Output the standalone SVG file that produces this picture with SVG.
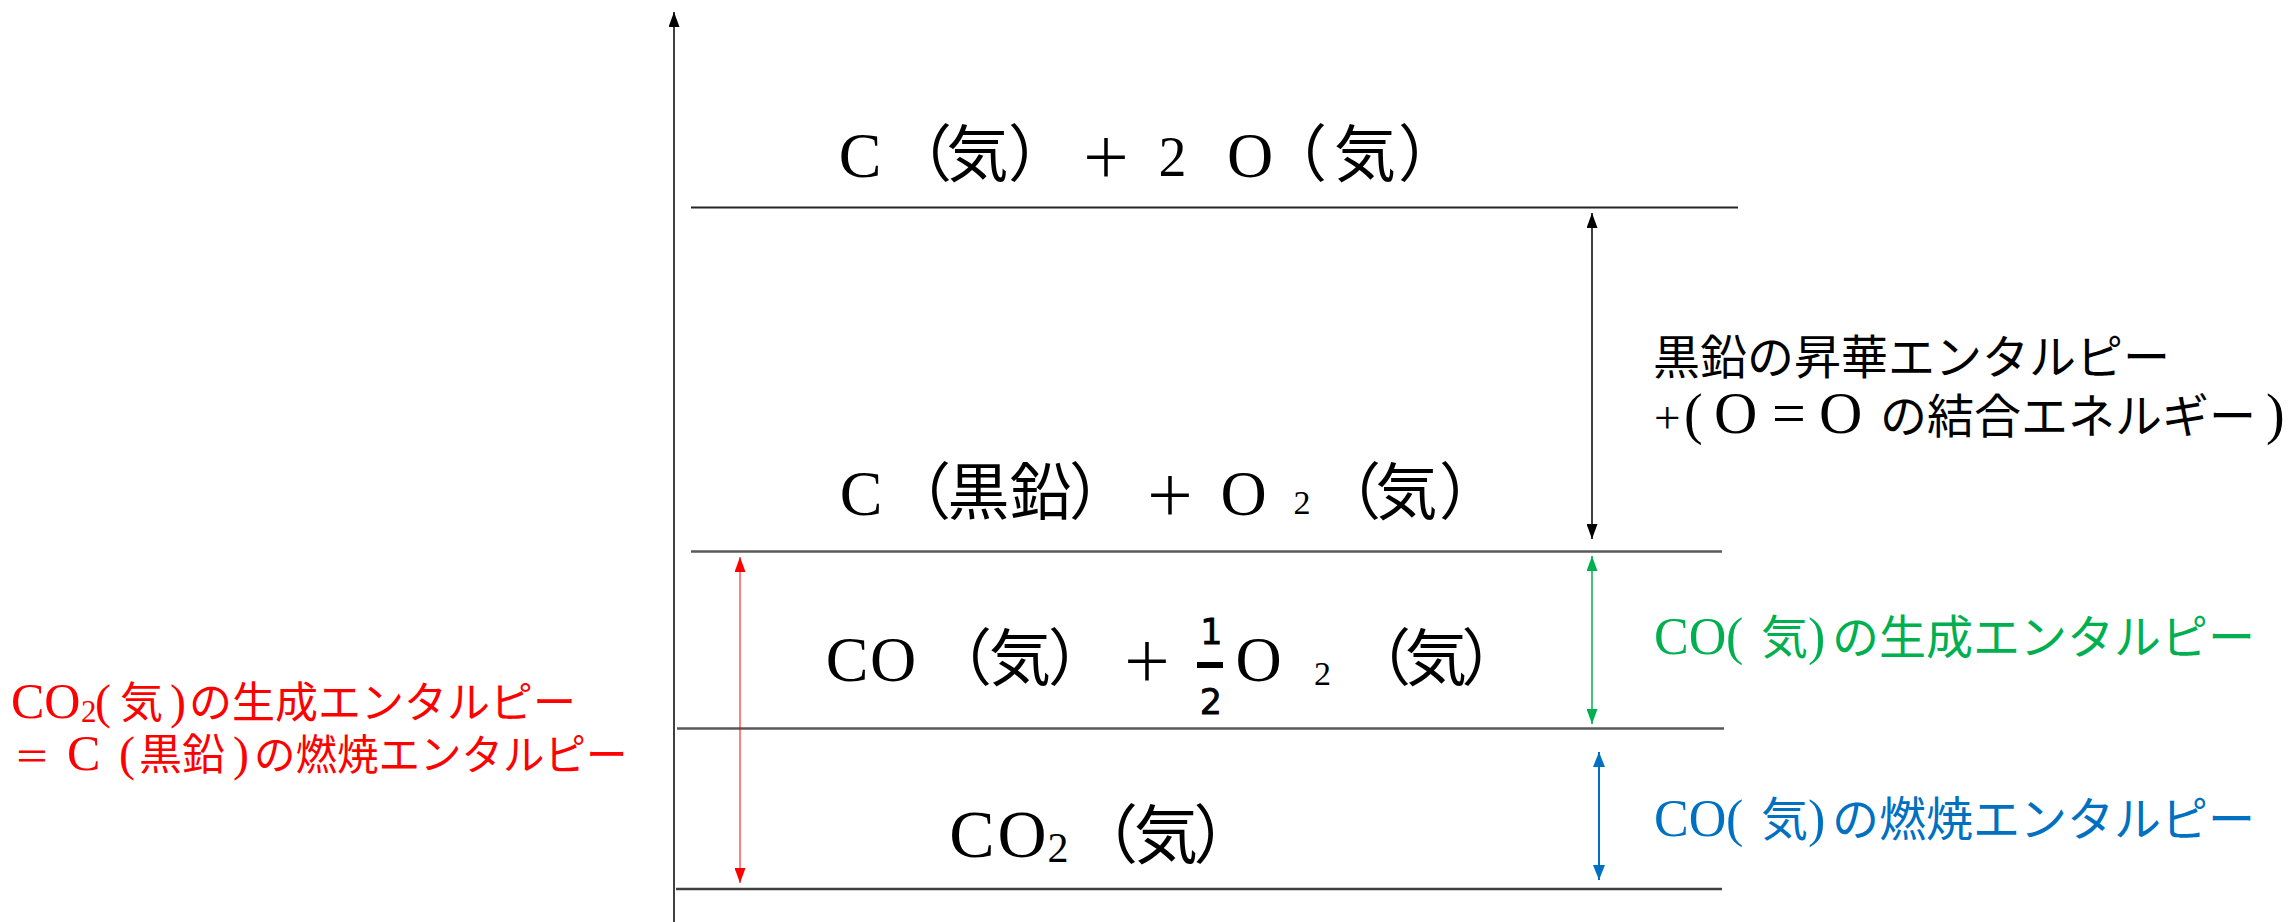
<svg xmlns="http://www.w3.org/2000/svg" width="2292" height="922" viewBox="0 0 2292 922">
<style>
.t{font-family:"Liberation Serif","Noto Sans CJK JP",serif;fill:#000}
.lat{font-family:"Liberation Serif","Noto Sans CJK JP",serif}
.cj{font-family:"Noto Sans CJK JP","Liberation Serif",sans-serif}
.frac{font-family:"DejaVu Sans","Liberation Sans",sans-serif;fill:#000;stroke:#000;stroke-width:0.8}
.lvl{fill:none;stroke:#595959;stroke-width:2.5}
.con{fill:none}
</style>
<defs>
<marker id="ak" markerUnits="userSpaceOnUse" markerWidth="15" markerHeight="11" refX="15" refY="5.5" orient="auto-start-reverse"><path d="M0,0 L15,5.5 L0,11 z" fill="#000"/></marker>
<marker id="ar" markerUnits="userSpaceOnUse" markerWidth="15" markerHeight="11" refX="15" refY="5.5" orient="auto-start-reverse"><path d="M0,0 L15,5.5 L0,11 z" fill="#FF0000"/></marker>
<marker id="ag" markerUnits="userSpaceOnUse" markerWidth="15" markerHeight="11" refX="15" refY="5.5" orient="auto-start-reverse"><path d="M0,0 L15,5.5 L0,11 z" fill="#00B050"/></marker>
<marker id="ab" markerUnits="userSpaceOnUse" markerWidth="15" markerHeight="12" refX="15" refY="6" orient="auto-start-reverse"><path d="M0,0 L15,6 L0,12 z" fill="#0070C0"/></marker>
</defs>
<rect width="2292" height="922" fill="#fff"/>

<g id="level-c-2o">
<line class="lvl" x1="691" y1="207.5" x2="1738" y2="207.5" style="stroke:#262626;stroke-width:2"/>
<text class="t" font-size="62" text-anchor="middle">
<tspan class="lat" x="860" y="177" font-size="64">C</tspan><tspan class="cj" x="921">（</tspan><tspan class="cj" x="977.5">気</tspan><tspan class="cj" x="1039">）</tspan><tspan class="cj" x="1106" font-size="52">＋</tspan><tspan class="lat" x="1172.5" y="176" font-size="56">2</tspan><tspan class="lat" x="1250" y="177" font-size="64">O</tspan><tspan class="cj" x="1296">（</tspan><tspan class="cj" x="1365">気</tspan><tspan class="cj" x="1429">）</tspan>
</text>
</g>

<g id="level-c-o2">
<line class="lvl" x1="691" y1="551.5" x2="1722" y2="551.5"/>
<text class="t" font-size="62" text-anchor="middle">
<tspan class="lat" x="861" y="515" font-size="64">C</tspan><tspan class="cj" x="920">（</tspan><tspan class="cj" x="978.5">黒</tspan><tspan class="cj" x="1040.5">鉛</tspan><tspan class="cj" x="1100">）</tspan><tspan class="cj" x="1170" font-size="52">＋</tspan><tspan class="lat" x="1243.5" font-size="64">O</tspan><tspan class="lat" x="1302" y="514" font-size="34">2</tspan><tspan class="cj" x="1350" y="515">（</tspan><tspan class="cj" x="1406.5">気</tspan><tspan class="cj" x="1470">）</tspan>
</text>
</g>

<g id="level-co-half-o2">
<line class="lvl" x1="677" y1="728.5" x2="1724" y2="728.5"/>
<text class="t" font-size="62" text-anchor="middle">
<tspan class="lat" x="847" y="681" font-size="64">C</tspan><tspan class="lat" x="893" font-size="64">O</tspan><tspan class="cj" x="961">（</tspan><tspan class="cj" x="1020">気</tspan><tspan class="cj" x="1079">）</tspan><tspan class="cj" x="1147" font-size="52">＋</tspan><tspan class="lat" x="1258.5" font-size="64">O</tspan><tspan class="lat" x="1322.5" y="685" font-size="34">2</tspan><tspan class="cj" x="1380" y="681">（</tspan><tspan class="cj" x="1436">気</tspan><tspan class="cj" x="1492.5">）</tspan>
</text>
<text class="frac" font-size="35" text-anchor="middle" x="1211.5" y="644">1</text>
<rect x="1197" y="662" width="26" height="6" fill="#000"/>
<text class="frac" font-size="35" text-anchor="middle" x="1211" y="714">2</text>
</g>

<g id="level-co2">
<line class="lvl" x1="676" y1="889" x2="1722" y2="889" style="stroke:#404040"/>
<text class="t" font-size="64" text-anchor="middle">
<tspan class="lat" x="972" y="857" font-size="68">C</tspan><tspan class="lat" x="1022" font-size="68">O</tspan><tspan class="lat" x="1058" y="862" font-size="42">2</tspan><tspan class="cj" x="1106" y="858">（</tspan><tspan class="cj" x="1166">気</tspan><tspan class="cj" x="1225.5">）</tspan>
</text>
</g>

<g id="label-sublimation">
<text class="t" font-size="47"><tspan class="cj" x="1653" y="374">黒鉛の昇華エンタルピー</tspan></text>
<text class="t" font-size="47"><tspan class="lat" x="1654" y="433">+</tspan><tspan class="lat" x="1684" font-size="56">(</tspan><tspan class="lat" x="1714" font-size="60">O</tspan><tspan class="lat" x="1772" font-size="60">=</tspan><tspan class="lat" x="1819" font-size="60">O</tspan><tspan class="cj" x="1880">の結合エネルギー</tspan><tspan class="lat" x="2266" font-size="56">)</tspan></text>
</g>

<g id="label-co-formation">
<text class="t" font-size="47" style="fill:#00B050"><tspan class="lat" x="1654" y="654" font-size="52">CO</tspan><tspan class="lat" x="1726" font-size="52">(</tspan><tspan class="cj" x="1761">気</tspan><tspan class="lat" x="1808" font-size="52">)</tspan><tspan class="cj" x="1832">の生成エンタルピー</tspan></text>
</g>

<g id="label-co-combustion">
<text class="t" font-size="47" style="fill:#0070C0"><tspan class="lat" x="1654" y="836" font-size="52">CO</tspan><tspan class="lat" x="1726" font-size="52">(</tspan><tspan class="cj" x="1761">気</tspan><tspan class="lat" x="1808" font-size="52">)</tspan><tspan class="cj" x="1832">の燃焼エンタルピー</tspan></text>
</g>

<g id="label-co2-formation">
<text class="t" font-size="43" style="fill:#FF0000"><tspan class="lat" x="11" y="718" font-size="50">CO</tspan><tspan class="lat" x="81" y="722" font-size="31">2</tspan><tspan class="lat" x="95" y="718" font-size="48">(</tspan><tspan class="cj" x="120">気</tspan><tspan class="lat" x="170" font-size="48">)</tspan><tspan class="cj" x="189">の生成エンタルピー</tspan></text>
<text class="t" font-size="43" style="fill:#FF0000"><tspan class="cj" x="14" y="770" font-size="36">＝</tspan><tspan class="lat" x="67" font-size="50">C</tspan><tspan class="lat" x="119" font-size="48">(</tspan><tspan class="cj" x="139">黒鉛</tspan><tspan class="lat" x="233" font-size="48">)</tspan><tspan class="cj" x="254" font-size="41.5">の燃焼エンタルピー</tspan></text>
</g>

<g id="connectors" class="con">
<line x1="674" y1="922" x2="674" y2="12" stroke="#000" stroke-width="1.5" marker-end="url(#ak)"/>
<line x1="1592" y1="213" x2="1592" y2="539" stroke="#000" stroke-width="1.5" marker-start="url(#ak)" marker-end="url(#ak)"/>
<line x1="740" y1="557" x2="740" y2="883" stroke="#FF0000" stroke-width="1" marker-start="url(#ar)" marker-end="url(#ar)"/>
<line x1="1592" y1="556" x2="1592" y2="724" stroke="#00B050" stroke-width="1.5" marker-start="url(#ag)" marker-end="url(#ag)"/>
<line x1="1599" y1="752" x2="1599" y2="880" stroke="#0070C0" stroke-width="2" marker-start="url(#ab)" marker-end="url(#ab)"/>
</g>
</svg>
